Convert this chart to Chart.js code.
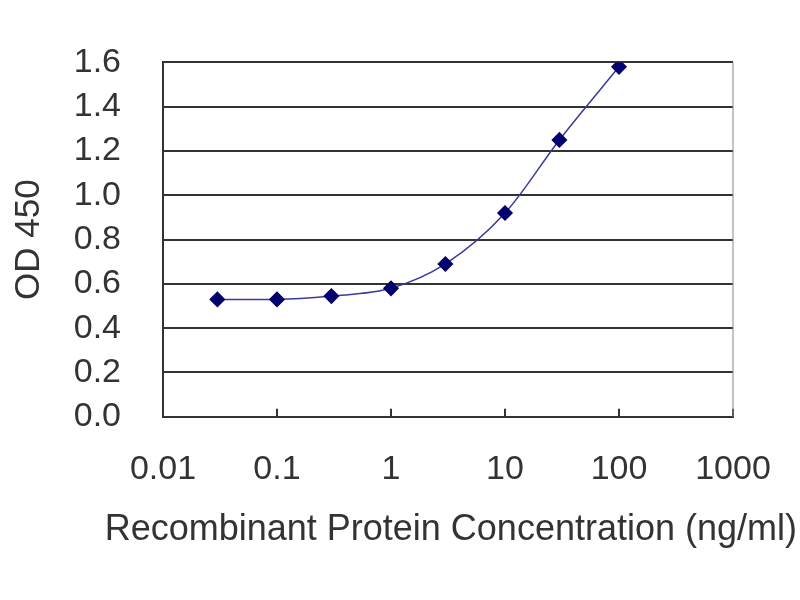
<!DOCTYPE html>
<html>
<head>
<meta charset="utf-8">
<script src="https://cdn.jsdelivr.net/npm/chart.js@4/dist/chart.umd.min.js"></script>
<style>
  html, body { margin: 0; padding: 0; background: #fff; }
  #wrap { width: 800px; height: 600px; }
</style>
</head>
<body>
<div id="wrap"><canvas id="odChart" width="800" height="600"></canvas></div>
<script>
// concentrations (ng/ml) and measured OD 450
const concentrations = [0.03, 0.1, 0.3, 1, 3, 10, 30, 100];
const odValues = [0.53, 0.53, 0.545, 0.58, 0.69, 0.92, 1.25, 1.58];
const xTickValues = [0.01, 0.1, 1, 10, 100, 1000];
const yTickValues = [0, 0.2, 0.4, 0.6, 0.8, 1.0, 1.2, 1.4, 1.6];

let points = concentrations.map(function (c, i) {
    return { x: c, y: odValues[i] };
});

// short tick marks pointing into the plot along the bottom axis, plus right border
const insideTicks = {
    id: 'insideTicks',
    afterDatasetsDraw: function (chart) {
        let ctx = chart.ctx;
        let area = chart.chartArea;
        let xs = chart.scales.x;
        ctx.save();
        ctx.strokeStyle = '#333';
        ctx.lineWidth = 2;
        xTickValues.forEach(function (v) {
            let px = xs.getPixelForValue(v);
            ctx.beginPath();
            ctx.moveTo(px, area.bottom);
            ctx.lineTo(px, area.bottom - 8);
            ctx.stroke();
        });
        ctx.strokeStyle = '#888';
        ctx.lineWidth = 1;
        ctx.beginPath();
        ctx.moveTo(area.right, area.top);
        ctx.lineTo(area.right, area.bottom);
        ctx.stroke();
        ctx.restore();
    }
};

new Chart(document.getElementById('odChart'), {
    type: 'scatter',
    data: {
        datasets: [{
            data: points,
            showLine: true,
            cubicInterpolationMode: 'monotone',
            borderColor: '#3a3a9c',
            borderWidth: 1.5,
            pointStyle: 'rectRot',
            pointRadius: 7,
            pointBackgroundColor: '#00006e',
            pointBorderColor: '#00006e'
        }]
    },
    options: {
        responsive: false,
        animation: false,
        layout: { padding: { top: 60, right: 3, left: 0, bottom: 0 } },
        plugins: {
            legend: { display: false },
            tooltip: { enabled: false },
            // axis title is wider than the plot, so it sits in the chart title box
            title: {
                display: true,
                position: 'bottom',
                align: 'end',
                text: 'Recombinant Protein Concentration (ng/ml)',
                color: '#333',
                font: { family: 'Liberation Sans', size: 36, weight: 'normal' },
                padding: { top: 0, bottom: 48 }
            }
        },
        scales: {
            x: {
                type: 'logarithmic',
                min: 0.01,
                max: 1000,
                afterBuildTicks: function (scale) {
                    scale.ticks = xTickValues.map(function (v) { return { value: v }; });
                },
                afterFit: function (scale) {
                    scale.height = 92;
                    scale.paddingLeft = 0;
                    scale.paddingRight = 0;
                },
                grid: { display: false, drawTicks: false },
                border: { display: true, color: '#333', width: 2 },
                ticks: {
                    padding: 32,
                    color: '#333',
                    font: { family: 'Liberation Sans', size: 34 },
                    maxRotation: 0,
                    autoSkip: false,
                    callback: function (v) { return String(v); }
                }
            },
            y: {
                min: 0,
                max: 1.6,
                afterBuildTicks: function (scale) {
                    scale.ticks = yTickValues.map(function (v) { return { value: v }; });
                },
                afterFit: function (scale) { scale.width = 163; },
                grid: { color: '#333', lineWidth: 2, drawTicks: false },
                border: { display: true, color: '#333', width: 2 },
                ticks: {
                    padding: 42,
                    color: '#333',
                    font: { family: 'Liberation Sans', size: 34 },
                    callback: function (v) { return v.toFixed(1); }
                },
                title: {
                    display: true,
                    text: 'OD 450',
                    color: '#333',
                    font: { family: 'Liberation Sans', size: 35 },
                    padding: { top: 8, bottom: 0 }
                }
            },
            // empty right axis, only keeps the plot's right edge clear of the title box
            yRight: {
                position: 'right',
                display: true,
                afterFit: function (scale) { scale.width = 64; },
                grid: { display: false, drawTicks: false },
                border: { display: false },
                ticks: { display: false }
            }
        }
    },
    plugins: [insideTicks]
});
</script>
</body>
</html>
